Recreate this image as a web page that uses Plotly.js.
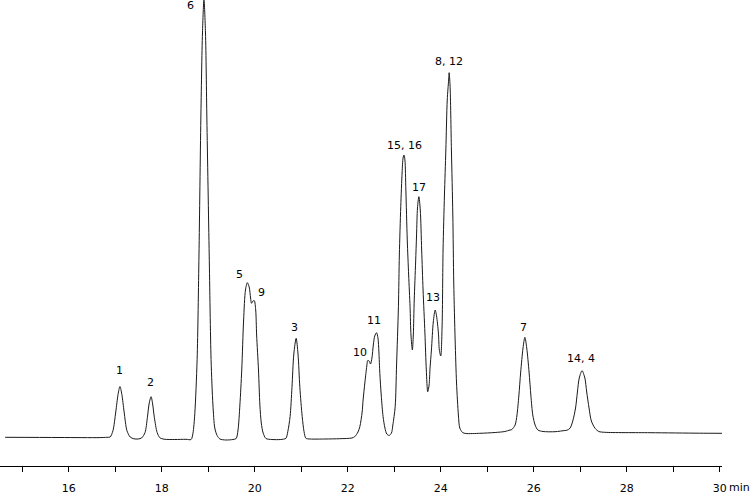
<!DOCTYPE html>
<html>
<head>
<meta charset="utf-8">
<script src="https://cdn.plot.ly/plotly-3.0.1.min.js"></script>
<style>html,body{margin:0;padding:0;background:#fff;}#chart{width:750px;height:494px;}</style>
</head>
<body>
<div id="chart"></div>
<script>
// Retention time (min) and detector signal (arbitrary units)
const times = [
  14.63, 15.81, 16.67, 16.82,
  16.89, 16.95, 17.01, 17.06, 17.10, 17.14, 17.19, 17.25, 17.32,
  17.40, 17.49,
  17.57, 17.64, 17.69, 17.73, 17.77, 17.80, 17.84, 17.90, 17.96,
  18.05, 18.28, 18.52, 18.63,
  18.67, 18.71, 18.76, 18.80, 18.84, 18.875, 18.907, 18.94, 18.97, 19.02, 19.06, 19.10, 19.14, 19.19, 19.25,
  19.38, 19.53, 19.60,
  19.64, 19.68, 19.72, 19.76, 19.80, 19.84, 19.88, 19.91, 19.93, 19.96, 19.99, 20.02, 20.04, 20.08, 20.11, 20.14, 20.18, 20.24,
  20.37, 20.56,
  20.67, 20.71, 20.76, 20.80, 20.84, 20.89, 20.93, 20.97, 21.02, 21.06, 21.10,
  21.19, 21.51, 21.83, 22.09,
  22.15, 22.22, 22.26, 22.31, 22.33, 22.37, 22.41, 22.43, 22.46, 22.49, 22.52, 22.55, 22.58, 22.62, 22.65, 22.67, 22.69, 22.72, 22.76, 22.80, 22.84,
  22.89, 22.94, 22.97, 23.02, 23.05, 23.09, 23.11, 23.14, 23.17, 23.19, 23.21, 23.23, 23.25, 23.28, 23.31, 23.34, 23.36, 23.39,
  23.41, 23.43, 23.46, 23.48, 23.50, 23.53, 23.56, 23.59, 23.62, 23.66, 23.69, 23.72,
  23.75, 23.77, 23.80, 23.84, 23.88, 23.91, 23.95, 23.97, 24.00,
  24.03, 24.05, 24.08, 24.11, 24.14, 24.17, 24.18, 24.20, 24.23, 24.26, 24.28, 24.31, 24.34, 24.38, 24.41, 24.47, 24.54,
  24.84, 25.17, 25.38, 25.49,
  25.53, 25.60, 25.64, 25.68, 25.72, 25.77, 25.81, 25.85, 25.90, 25.94, 25.98, 26.03, 26.09, 26.20,
  26.46, 26.67,
  26.71, 26.78, 26.84, 26.90, 26.94, 26.98, 27.04, 27.10, 27.14, 27.19, 27.24, 27.32, 27.40, 27.53,
  28.50, 29.57, 30.05
];
const signal = [
  0.2, 0, -0.1, 0.2,
  0.5, 6.9, 25.5, 43.3, 51, 43.3, 25.5, 6.9, 0.5,
  -1.3, -1.5,
  -0.3, 5, 20, 34.5, 40.8, 34.5, 20, 5, -0.3,
  -1.7, -2, -1.8, -2,
  4.2, 23.9, 78, 182.5, 318.5, 404.5, 438, 404.5, 318.5, 182.5, 78, 32.5, 9.5, 2, -1.5,
  -2.5, -2, -1,
  7.5, 32.5, 67.5, 117.5, 147.5, 154.8, 150.5, 139.5, 134.2, 136.5, 136.8, 127.5, 102.5, 67.5, 32.5, 14.5, 4.5, -1,
  -2, -2,
  -0.8, 5.8, 21, 50, 83.5, 99.2, 83.5, 50, 21, 5.8, -0.8,
  -1.5, -1.5, -1.2, -0.5,
  0.8, 5.5, 10.8, 25.5, 37.5, 55.5, 71.5, 77, 76.5, 73.5, 79.5, 92.5, 101.5, 104.8, 99.5, 85.5, 64.2, 42.5, 20.8, 9.5, 3.5,
  2, 4.5, 12.5, 30.8, 72.5, 130.8, 182.5, 230.8, 265.5, 279.5, 282.5, 277.5, 247.5, 197.5, 162.5, 130.8, 102.5, 87.5,
  102.5, 137.5, 175.5, 202.5, 229.5, 240.8, 227.5, 187.5, 147.5, 104.5, 67.5, 45.8,
  52.5, 69.5, 87.5, 115.5, 127.5, 121.5, 104.5, 87.5, 81.5,
  112.5, 187.5, 242.5, 287.5, 337.5, 357.5, 364.8, 352.5, 287.5, 222.5, 154.5, 97.5, 54.5, 22.5, 9.5, 5, 4,
  4.2, 5, 6, 7.5,
  8, 12.5, 22.5, 41.5, 65.5, 89.5, 100.2, 89.5, 65.5, 41.5, 22.5, 12.5, 7.5, 6,
  5.8, 7,
  7.2, 9.2, 16.5, 29.5, 45.5, 59.5, 66.8, 59.5, 45.5, 29.5, 16.5, 9.2, 6, 5.2,
  4.8, 4.3, 4.2
];

// Peak labels and where they sit (time, signal)
const peakNames = ["1", "2", "6", "5", "9", "3", "10", "11", "15, 16", "17", "13", "8, 12", "7", "14, 4"];
const labelTimes = [17.08, 17.75, 18.61, 19.68, 20.15, 20.86, 22.26, 22.56, 23.21, 23.53, 23.83, 24.18, 25.79, 27.01];
const labelSignal = [67.5, 55.5, 432.5, 163.5, 145.5, 110.5, 85.5, 117.5, 292.5, 250.5, 140.5, 376.5, 110.5, 79.5];

// Axis ticks
const tickValues = [16, 18, 20, 22, 24, 26, 28, 30];
const tickLabels = ["16", "18", "20", "22", "24", "26", "28", "30"];
const axisUnit = "min";

const FONT = "DejaVu Sans, Verdana, sans-serif";

const trace = {
  x: times,
  y: signal,
  type: "scatter",
  mode: "lines",
  line: { color: "#1a1a1a", width: 1, shape: "spline", smoothing: 0.8 },
  hoverinfo: "skip"
};

const annotations = peakNames.map((name, i) => ({
  x: labelTimes[i],
  y: labelSignal[i],
  xref: "x",
  yref: "y",
  text: name,
  showarrow: false,
  xanchor: "center",
  yanchor: "middle",
  font: { family: FONT, size: 11, color: "#000" }
}));
annotations.push({
  x: tickValues[tickValues.length - 1],
  y: 0,
  xref: "x",
  yref: "paper",
  text: axisUnit,
  showarrow: false,
  xanchor: "left",
  yanchor: "middle",
  xshift: 7,
  yshift: -21,
  font: { family: FONT, size: 11, color: "#000" }
});

const layout = {
  width: 750,
  height: 494,
  margin: { l: 0, r: 28, t: 0, b: 28, pad: 0 },
  paper_bgcolor: "#fff",
  plot_bgcolor: "#fff",
  showlegend: false,
  xaxis: {
    range: [14.52, 30.05],
    showline: true,
    linecolor: "#000",
    linewidth: 1,
    ticks: "outside",
    ticklen: 5,
    tickwidth: 1,
    tickcolor: "#000",
    tickvals: tickValues,
    ticktext: tickLabels,
    ticklabelstandoff: 7,
    tickfont: { family: FONT, size: 11, color: "#000" },
    showgrid: false,
    zeroline: false,
    minor: { dtick: 1, tick0: 0, ticks: "outside", ticklen: 5, tickwidth: 1, tickcolor: "#000", showgrid: false }
  },
  yaxis: {
    range: [-28.5, 437.5],
    visible: false,
    showgrid: false,
    zeroline: false
  },
  annotations: annotations
};

Plotly.newPlot("chart", [trace], layout, { displayModeBar: false, staticPlot: true });
</script>
</body>
</html>
